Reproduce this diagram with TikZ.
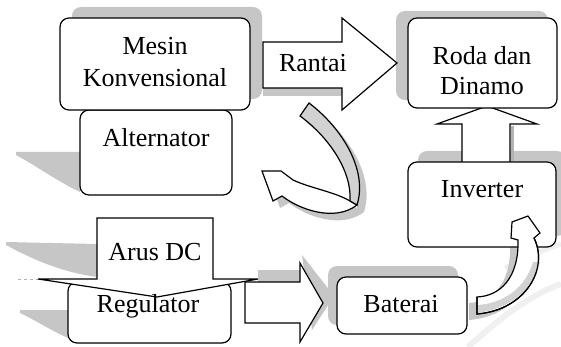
\documentclass[tikz,border=0pt]{standalone}
\usepackage{fontspec}
\setmainfont{Liberation Serif}
\usetikzlibrary{positioning}

\tikzset{
  kotak/.style={draw, line width=1.2pt, fill=white, rounded corners=9pt},
  bayang/.style={fill=gray!45, draw=none},
  panah/.style={draw, line width=1.2pt, fill=white, line join=miter},
  tulisan/.style={font=\fontsize{26}{32}\selectfont, inner sep=0pt, anchor=base, align=center}
}

\begin{document}
\begin{tikzpicture}[x=1pt, y=-1pt]
\useasboundingbox (0,0) rectangle (561,347);

% tanda air samar
\draw[gray!12, line width=6pt] (468,347) .. controls (500,318) and (530,295) .. (561,284);
\draw[gray!12, line width=5pt] (505,268) .. controls (525,258) and (545,249) .. (561,244);

% bayangan
\fill[bayang, rounded corners=9pt] (72,7) rectangle (262,99);
\fill[bayang] (263,80) rectangle (342,96);
\fill[bayang, rounded corners=9pt] (396,11) rectangle (548,100);
\fill[bayang, rounded corners=9pt] (418,151) rectangle (566,236);
\fill[bayang, rounded corners=9pt] (328,266) rectangle (458,325);
\fill[bayang] (258,270) rectangle (302,282);
\fill[bayang] (302,255) -- (334,296) -- (312,330) -- cycle;
\fill[bayang] (16,152) -- (80,152) -- (80,192) .. controls (55,180) and (35,165) .. (16,155) -- cycle;
\fill[bayang] (6,242) -- (97,244) -- (97,277) .. controls (60,272) and (30,258) .. (6,245) -- cycle;
\fill[bayang] (20,310) -- (68,310) -- (68,338) .. controls (50,330) and (35,320) .. (20,313) -- cycle;
\draw[gray!60, dashed, line width=1pt] (18,279) -- (38,279);
\fill[bayang, shift={(7,7)}] (300,116) -- (309,103) .. controls (342,128) and (368,170) .. (357,205)
  .. controls (335,222) and (300,210) .. (282,196) -- (273,201) -- (262,171) -- (281,171) -- (293,180)
  .. controls (310,188) and (335,192) .. (350,201) .. controls (352,172) and (330,138) .. (300,116) -- cycle;
\fill[bayang, shift={(-8,6)}] (477,297) .. controls (500,296) and (519,278) .. (518,240) -- (511,238)
  -- (512,222) -- (528,216) -- (540,233) -- (534,238) .. controls (549,268) and (526,310) .. (477,314) -- cycle;

% panah ke atas (inverter ke roda)
\filldraw[panah] (462,162) -- (462,124) -- (437,124) -- (487,106) -- (537,124) -- (510,124) -- (510,162);
\draw[gray!60, line width=3pt] (512.5,126) -- (512.5,161);

% kotak
\node[kotak, minimum width=152, minimum height=85] (alt) at (156,152.5) {};
\node[kotak, minimum width=190, minimum height=92] (mesin) at (155,64) {};
\node[kotak, minimum width=149, minimum height=90] (roda) at (482.5,63) {};
\node[kotak, minimum width=148, minimum height=85] (inv) at (482,204.5) {};
\node[kotak, minimum width=130, minimum height=57] (bat) at (402,305.5) {};
\node[kotak, minimum width=163, minimum height=61] (reg) at (149.5,312.5) {};

% panah blok
\filldraw[panah] (263,42) -- (342,42) -- (342,18) -- (397,63) -- (342,110) -- (342,88) -- (263,88) -- cycle;
\filldraw[panah] (97,279) -- (97,218) -- (213,218) -- (213,279) -- (258,279) -- (157,297) -- (38,279) -- cycle;
\filldraw[panah] (245,282) -- (300,282) -- (300,263) -- (323,303) -- (300,342) -- (300,323) -- (245,323) -- cycle;

% panah lengkung dari rantai ke alternator
\filldraw[panah] (350,201) .. controls (335,192) and (310,188) .. (293,180) -- (281,171) -- (262,171)
  -- (273,201) -- (282,196) .. controls (300,210) and (335,222) .. (357,205) -- cycle;
\filldraw[panah, fill=gray!35] (300,116) -- (309,103) .. controls (342,128) and (368,170) .. (357,205)
  -- (350,201) .. controls (352,172) and (330,138) .. (300,116) -- cycle;

% panah lengkung dari baterai ke inverter
\filldraw[panah] (477,297) .. controls (500,296) and (519,278) .. (518,240) -- (511,238) -- (512,222)
  -- (528,216) -- (540,233) -- (534,238) .. controls (549,268) and (526,310) .. (477,314) -- cycle;
\fill[gray!35] (478,313) .. controls (510,308) and (533,291) .. (540,262) -- (533,262)
  .. controls (526,286) and (506,303) .. (478,305) -- cycle;
\draw[line width=1.2pt] (534,238) .. controls (549,268) and (526,310) .. (477,314) -- (477,297);

% tulisan
\node[tulisan] (tmesin) at (155,87) {Mesin\\Konvensional};
\node[tulisan] (trantai) at (313,72) {Rantai};
\node[tulisan, font=\fontsize{26}{30}\selectfont] (troda) at (482,95) {Roda dan\\Dinamo};
\node[tulisan] (talt) at (156,147) {Alternator};
\node[tulisan] (tinv) at (482,197) {Inverter};
\node[tulisan] (tarus) at (155,260) {Arus DC};
\node[tulisan] (treg) at (148,312) {Regulator};
\node[tulisan] (tbat) at (401,312) {Baterai};
\end{tikzpicture}
\end{document}
